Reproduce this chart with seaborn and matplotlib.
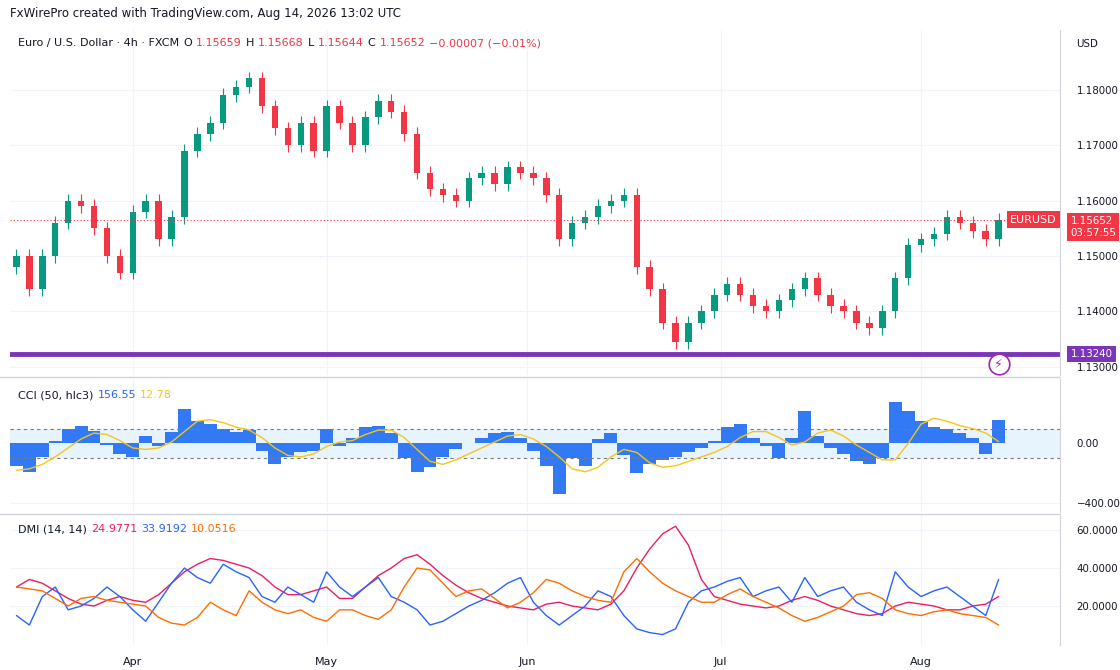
import matplotlib
matplotlib.use("Agg")
import matplotlib.pyplot as plt
import seaborn as sns
import numpy as np
import pandas as pd

# ---- data (one point every 2 days from ~Mar 14) ----
days = list(range(0, 154, 2))
closes = [1.1500, 1.1440, 1.1500, 1.1560, 1.1600, 1.1590, 1.1550, 1.1500, 1.1470, 1.1580,
          1.1600, 1.1530, 1.1570, 1.1690, 1.1720, 1.1740, 1.1790, 1.1805, 1.1820, 1.1770,
          1.1730, 1.1700, 1.1740, 1.1690, 1.1770, 1.1740, 1.1700, 1.1750, 1.1780, 1.1760,
          1.1720, 1.1650, 1.1620, 1.1610, 1.1600, 1.1640, 1.1650, 1.1630, 1.1660, 1.1650,
          1.1640, 1.1610, 1.1530, 1.1560, 1.1570, 1.1590, 1.1600, 1.1610, 1.1480, 1.1440,
          1.1380, 1.1345, 1.1380, 1.1400, 1.1430, 1.1450, 1.1430, 1.1410, 1.1400, 1.1420,
          1.1440, 1.1460, 1.1430, 1.1410, 1.1400, 1.1380, 1.1370, 1.1400, 1.1460, 1.1520,
          1.1530, 1.1540, 1.1570, 1.1560, 1.1545, 1.1530, 1.1565]
first_open = 1.1480
cci = [-150, -190, -90, 20, 100, 120, 85, -10, -70, -90, 50, -20, 80, 230, 150, 130, 100, 80,
       90, -50, -140, -90, -60, -50, 100, -20, 40, 110, 120, 70, -100, -190, -160, -90, -40, 0,
       40, 70, 80, 40, -50, -150, -340, -100, -150, 30, 70, -80, -200, -140, -110, -90, -60,
       -30, 20, 110, 130, 40, -20, -100, 40, 220, 50, -30, -70, -120, -140, -100, 280, 220,
       150, 110, 100, 70, 40, -70, 160]
cci_ma = [-180, -170, -140, -90, -30, 30, 70, 60, 20, -30, -40, -30, 10, 80, 150, 160, 140,
          110, 90, 40, -30, -80, -90, -70, -20, 10, 20, 60, 90, 90, 40, -40, -120, -140, -110,
          -70, -30, 10, 50, 60, 30, -20, -90, -170, -190, -160, -90, -40, -60, -130, -160, -150,
          -120, -90, -60, -20, 40, 80, 80, 40, -10, 10, 70, 90, 50, -10, -60, -110, -110, 0,
          130, 170, 150, 120, 100, 70, 13]
adx = [30, 34, 32, 28, 24, 21, 20, 23, 25, 23, 22, 26, 32, 38, 42, 45, 44, 42, 40, 36, 30, 26,
       26, 28, 30, 24, 24, 30, 36, 40, 45, 47, 42, 36, 31, 27, 24, 22, 20, 19, 18, 21, 22, 20,
       19, 18, 21, 28, 40, 50, 58, 62, 52, 34, 25, 23, 21, 20, 19, 20, 23, 25, 23, 20, 18, 16,
       15, 16, 20, 22, 21, 20, 18, 18, 20, 21, 25]
plus_di = [15, 10, 25, 30, 18, 20, 24, 30, 25, 18, 12, 22, 32, 40, 35, 32, 42, 38, 35, 25, 22,
           30, 26, 22, 38, 30, 25, 30, 35, 25, 22, 18, 10, 12, 16, 20, 23, 27, 32, 35, 22, 15,
           10, 15, 20, 28, 25, 15, 8, 6, 5, 8, 22, 28, 30, 33, 35, 25, 28, 30, 22, 35, 25, 28,
           30, 22, 18, 15, 38, 30, 25, 28, 30, 25, 20, 15, 34]
minus_di = [30, 29, 28, 24, 20, 24, 25, 23, 22, 21, 20, 14, 11, 10, 14, 22, 18, 15, 28, 22, 18,
            16, 18, 14, 12, 18, 18, 15, 13, 18, 30, 40, 39, 32, 25, 28, 29, 24, 19, 22, 27, 34,
            32, 28, 25, 23, 22, 38, 45, 38, 32, 28, 25, 22, 22, 26, 29, 25, 22, 19, 15, 12, 14,
            17, 20, 26, 27, 24, 18, 16, 15, 17, 18, 16, 15, 14, 10]
month_days = [18, 48, 79, 109, 140]
month_labels = ["Apr", "May", "Jun", "Jul", "Aug"]
support = 1.1324
last_price = 1.15652

GREEN, RED = "#089981", "#f23645"
BLUE, ORANGE, PINK, YELLOW = "#2962ff", "#ff6d00", "#e91e63", "#f5c518"
TXT = "#131722"
FS = 8
AFS = 7.4  # right axis labels

sns.set_style("white")
plt.rcParams["font.family"] = ["DejaVu Sans"]

W, H = 1120, 670
fig = plt.figure(figsize=(W / 100, H / 100), dpi=100)

def add_ax(top, bottom):
    return fig.add_axes([10 / W, 1 - bottom / H, 1050 / W, (bottom - top) / H])

ax = add_ax(30, 375)
ax2 = add_ax(379, 512)
ax3 = add_ax(515, 645)
XL = (-1, 161.5)

for a in (ax, ax2, ax3):
    a.set_xlim(*XL)
    a.yaxis.tick_right()
    a.tick_params(axis="y", length=0, labelsize=AFS, labelcolor=TXT, pad=12)
    a.tick_params(axis="x", length=0)
    a.set_xticks(month_days)
    a.grid(True, color="#f0f3fa", lw=0.8)
    for s in ("top", "left", "bottom"):
        a.spines[s].set_visible(False)
    a.spines["right"].set_color("#d1d4dc")
    a.set_xticklabels([])

# ---- candles ----
opens = [first_open] + closes[:-1]
df = pd.DataFrame({"day": days, "open": opens, "close": closes})
df["col"] = np.where(df["close"] >= df["open"], GREEN, RED)
lo = df[["open", "close"]].min(axis=1)
hi = df[["open", "close"]].max(axis=1)
wick = 0.0012
ax.vlines(df["day"], lo - wick, hi + wick, colors=df["col"], lw=0.8)
ax.bar(df["day"], (hi - lo).clip(lower=0.0002), bottom=lo, width=1.0, color=df["col"], lw=0)
ax.set_ylim(1.12855, 1.19073)
ax.set_yticks([1.13, 1.14, 1.15, 1.16, 1.17, 1.18])
ax.set_yticklabels([f"{v:.5f}" for v in ax.get_yticks()])
ax.axhline(support, color="#7b35b8", lw=3.5)
ax.axhline(last_price, color=RED, lw=0.8, ls=(0, (1, 2)))
ytr = ax.get_yaxis_transform()
ax.text(1.01, support, "1.13240", transform=ytr, color="white", fontsize=AFS, va="center",
        ha="left", bbox=dict(boxstyle="square,pad=0.3", fc="#7b35b8", ec="none"), clip_on=False)
ax.text(1.01, last_price + 0.0006, "1.15652\n03:57:55", transform=ytr, color="white",
        fontsize=AFS, va="top", ha="left", linespacing=1.15,
        bbox=dict(boxstyle="square,pad=0.3", fc=RED, ec="none"), clip_on=False)
ax.text(0.997, last_price, "EURUSD", transform=ytr, color="white", fontsize=FS, va="center",
        ha="right", bbox=dict(boxstyle="square,pad=0.3", fc=RED, ec="none"))
ax.scatter([152], [1.1305], s=220, facecolors="white", edgecolors="#9c27b0", lw=1.2, zorder=5)
ax.text(152, 1.1305, "⚡", color="#9c27b0", ha="center", va="center", fontsize=9, zorder=6)

# ---- CCI ----
ax2.axhspan(-100, 100, color="#e3f2fd", alpha=0.8, lw=0)
ax2.axhline(100, color="#787b86", lw=0.8, ls=(0, (3, 3)))
ax2.axhline(-100, color="#787b86", lw=0.8, ls=(0, (3, 3)))
ax2.bar(days, cci, width=2.0, color="#3179f5", lw=0)
sns.lineplot(x=days, y=cci_ma, ax=ax2, color=YELLOW, lw=1.0)
ax2.set_ylim(-460, 433)
ax2.set_yticks([0, -400])
ax2.set_yticklabels(["0.00", "\u2212400.00"])
ax2.set_xlim(*XL)

# ---- DMI ----
dmi = pd.DataFrame({"day": days, "ADX": adx, "+DI": plus_di, "-DI": minus_di}).melt(
    "day", var_name="line", value_name="val")
sns.lineplot(data=dmi, x="day", y="val", hue="line", ax=ax3, lw=1.0, legend=False,
             palette={"ADX": PINK, "+DI": BLUE, "-DI": ORANGE})
ax3.set_ylim(-0.5, 67.9)
ax3.set_yticks([20, 40, 60])
ax3.set_yticklabels(["20.0000", "40.0000", "60.0000"])
ax3.set_xlim(*XL)
for a in (ax2, ax3):
    a.set_xlabel("")
    a.set_ylabel("")
for d, lab in zip(month_days, month_labels):
    ax3.text(d, -0.13, lab, transform=ax3.get_xaxis_transform(), ha="center", va="center",
             fontsize=FS, color=TXT)

# panel separators
for y in (377, 513.5):
    fig.add_artist(plt.Line2D([0, 1060 / W], [1 - y / H] * 2, color="#d1d4dc", lw=1))

# ---- header texts ----
fig.text(10 / W, 1 - 14 / H, "FxWirePro created with TradingView.com, Aug 14, 2026 13:02 UTC",
         fontsize=8.5, color=TXT, va="center")
fig.text(1087 / W, 1 - 44 / H, "USD", fontsize=AFS, color=TXT, va="center", ha="center")

def legend_row(y, parts, x0=18):
    x = x0
    r = fig.canvas.get_renderer()
    for s, c in parts:
        t = fig.text(x / W, 1 - y / H, s, fontsize=FS, color=c, va="center")
        x += t.get_window_extent(r).width + 4

legend_row(43, [("Euro / U.S. Dollar · 4h · FXCM", TXT), ("O", TXT), ("1.15659", RED),
                ("H", TXT), ("1.15668", RED), ("L", TXT), ("1.15644", RED), ("C", TXT),
                ("1.15652", RED), ("\u22120.00007 (\u22120.01%)", RED)])
legend_row(395, [("CCI (50, hlc3)", TXT), ("156.55", BLUE), ("12.78", YELLOW)])
legend_row(529, [("DMI (14, 14)", TXT), ("24.9771", PINK), ("33.9192", BLUE),
                 ("10.0516", ORANGE)])

fig.savefig("out.png", dpi=100, facecolor="white")
